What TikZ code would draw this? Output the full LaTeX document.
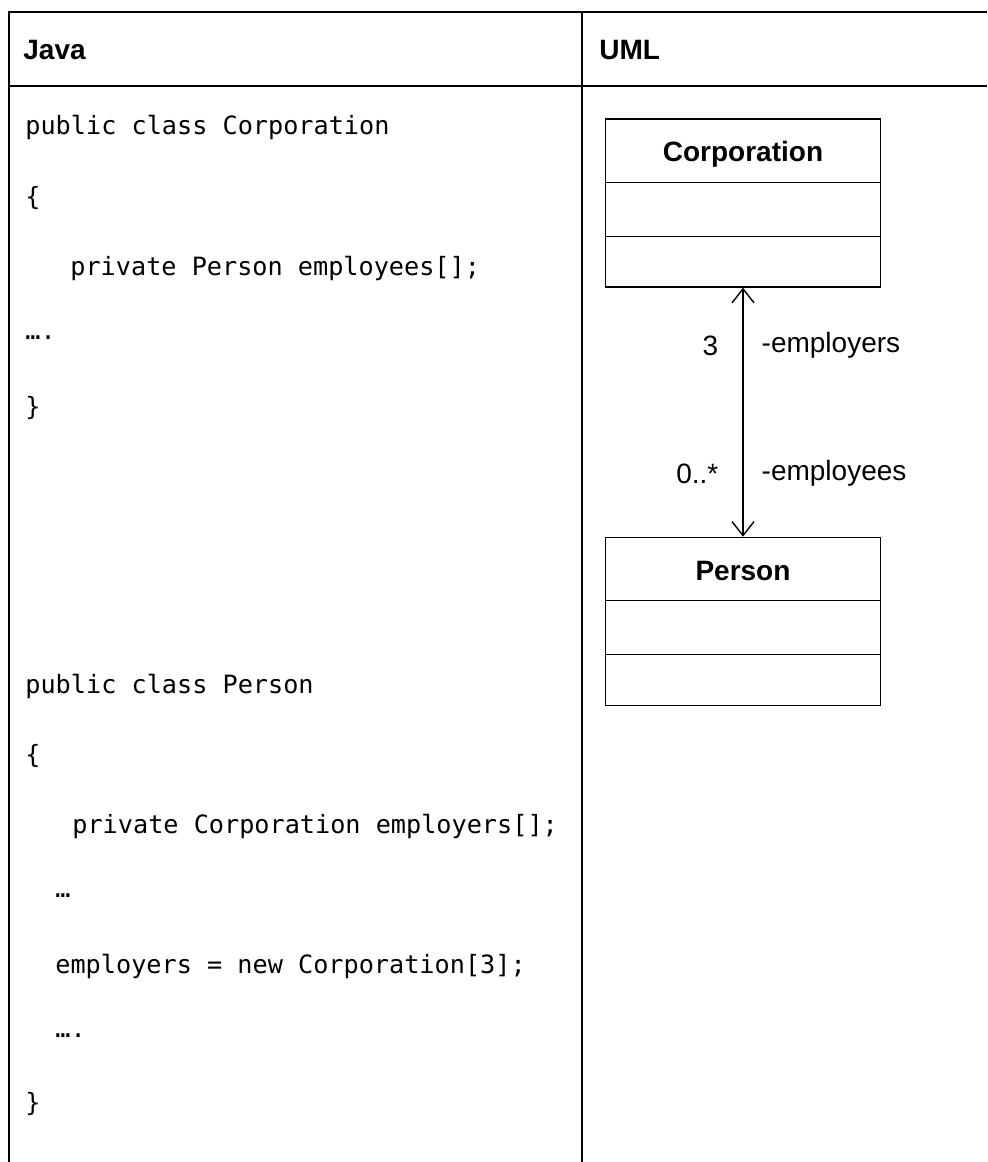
\documentclass[tikz,border=0pt]{standalone}
\usepackage{fontspec}
\setmainfont{Liberation Sans}
\setmonofont{DejaVu Sans Mono}
\usetikzlibrary{%
  arrows.meta,%
  positioning
}
\tikzset{
  frame/.style={line width=1.4pt},
  head/.style={anchor=west,inner sep=0pt,font=\fontsize{14}{16}\selectfont\bfseries},
  code/.style={anchor=west,inner sep=0pt,font=\fontsize{12.6}{15}\selectfont\ttfamily},
  classbox/.style={draw,line width=0.7pt,minimum width=137.5pt,minimum height=84pt,inner sep=0pt},
  classname/.style={inner sep=0pt,font=\fontsize{14}{16}\selectfont\bfseries},
  role/.style={inner sep=0pt,font=\fontsize{14}{16}\selectfont}
}

\begin{document}
\begin{tikzpicture}[x=0.5pt,y=-0.5pt]
  \useasboundingbox (0,0) rectangle (987,1162);
  \draw [frame] (9,1162) -- (9,12) -- (987,12);
  \draw [frame] (9,86) -- (987,86);
  \draw [frame] (582,12) -- (582,1162);
  \node [head] (java) at (23,50) {Java};
  \node [head] (uml) at (599,50) {UML};
  % java source
  \foreach \x/\y/\t [count=\i] in {25/127/public class Corporation, 25/198/\{,
      70/268/private Person employees[];, 25/338/…., 25/408/\},
      25/686/public class Person, 25/756/\{, 72/826/private Corporation employers[];,
      55/896/…, 55/966/employers = new Corporation[3];, 55/1036/…., 25/1104/\}}
    \node [code] (code\i) at (\x,\y) {\t};
  % uml classes
  \node [classbox] (corp) at (743,203) {};
  \node [classbox,below=124.5pt of corp] (pers) {};
  \foreach \c in {corp,pers} {
    \draw [line width=0.7pt] ([yshift=-32pt]\c.north west) -- ([yshift=-32pt]\c.north east);
    \draw [line width=0.7pt] ([yshift=-59pt]\c.north west) -- ([yshift=-59pt]\c.north east);
  }
  \node [classname] (corpname) at ([yshift=-18pt]corp.north) {Corporation};
  \node [classname] (persname) at ([yshift=-17pt]pers.north) {Person};
  \draw [line width=0.7pt,{Straight Barb[length=7pt,width=11pt]}-{Straight Barb[length=7pt,width=11pt]}] (corp.south) -- (pers.north)
    node [role,pos=0.233,left=12pt] (mult3) {3}
    node [role,pos=0.233,right=9pt] (employers) {-employers}
    node [role,pos=0.747,left=12pt] (multmany) {0..*}
    node [role,pos=0.747,right=9pt] (employees) {-employees};
\end{tikzpicture}
\end{document}
